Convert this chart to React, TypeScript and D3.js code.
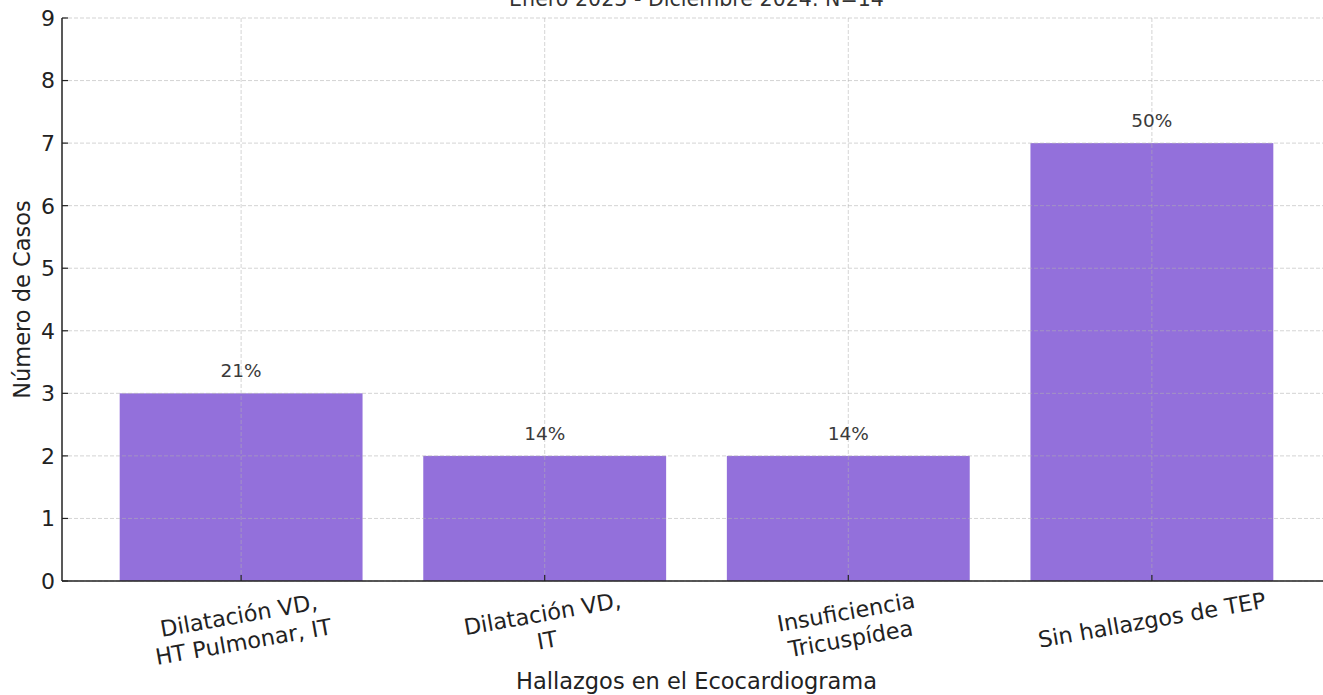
import * as d3 from "d3";
import { useEffect, useRef } from "react";

const categories = [
  ["Dilatación VD,", "HT Pulmonar, IT"],
  ["Dilatación VD,", "IT"],
  ["Insuficiencia", "Tricuspídea"],
  ["Sin hallazgos de TEP"],
];
const cases = [3, 2, 2, 7];
const percentLabels = ["21%", "14%", "14%", "50%"];
const yTicks = [0, 1, 2, 3, 4, 5, 6, 7, 8, 9];

const W = 1323;
const H = 695;
const FONT = "'DejaVu Sans', sans-serif";
const ROT = 10;

const App = () => {
  const svgRef = useRef<SVGSVGElement>(null);

  useEffect(() => {
    const svgEl = svgRef.current;
    if (!svgEl) return;
    const svg = d3.select(svgEl);
    svg.selectAll("*").remove();

    const left = 62;
    const right = 1331;
    const top = 18;
    const bottom = 581;

    const keys = categories.map((_, i) => String(i));
    const x = d3
      .scaleBand<string>()
      .domain(keys)
      .range([left, right])
      .paddingInner(0.2)
      .paddingOuter(0.19);
    const y = d3.scaleLinear().domain([0, 9]).range([bottom, top]);

    // bars
    svg
      .append("g")
      .selectAll("rect")
      .data(cases)
      .join("rect")
      .attr("x", (_, i) => x(keys[i])!)
      .attr("width", x.bandwidth())
      .attr("y", (d) => y(d))
      .attr("height", (d) => y(0) - y(d))
      .attr("fill", "#9370db");

    // grid on top, dashed
    const grid = svg.append("g").attr("stroke", "#b0b0b0").attr("stroke-opacity", 0.55)
      .attr("stroke-dasharray", "4,2").attr("stroke-width", 1);
    grid
      .selectAll("line.h")
      .data(yTicks)
      .join("line")
      .attr("x1", left)
      .attr("x2", W)
      .attr("y1", (d) => y(d))
      .attr("y2", (d) => y(d));
    grid
      .selectAll("line.v")
      .data(keys)
      .join("line")
      .attr("x1", (k) => x(k)! + x.bandwidth() / 2)
      .attr("x2", (k) => x(k)! + x.bandwidth() / 2)
      .attr("y1", top)
      .attr("y2", bottom);

    // value annotations
    svg
      .append("g")
      .selectAll("text")
      .data(cases)
      .join("text")
      .attr("x", (_, i) => x(keys[i])! + x.bandwidth() / 2)
      .attr("y", (d) => y(d) - 16)
      .attr("text-anchor", "middle")
      .attr("font-family", FONT)
      .attr("font-size", 18.5)
      .attr("fill", "#3a3a3a")
      .text((_, i) => percentLabels[i]);

    // spines
    svg.append("line").attr("x1", left).attr("x2", left).attr("y1", top).attr("y2", bottom)
      .attr("stroke", "#222").attr("stroke-width", 1.5);
    svg.append("line").attr("x1", left).attr("x2", W).attr("y1", bottom).attr("y2", bottom)
      .attr("stroke", "#222").attr("stroke-width", 1.5);

    // y ticks (inward) and labels
    const yt = svg.append("g");
    yt.selectAll("line")
      .data(yTicks)
      .join("line")
      .attr("x1", left)
      .attr("x2", left + 6)
      .attr("y1", (d) => y(d))
      .attr("y2", (d) => y(d))
      .attr("stroke", "#222")
      .attr("stroke-width", 1.2);
    yt.selectAll("text")
      .data(yTicks)
      .join("text")
      .attr("x", left - 7)
      .attr("y", (d) => y(d))
      .attr("dy", "0.36em")
      .attr("text-anchor", "end")
      .attr("font-family", FONT)
      .attr("font-size", 22)
      .attr("fill", "#222")
      .text((d) => String(d));

    // x ticks (inward)
    svg
      .append("g")
      .selectAll("line")
      .data(keys)
      .join("line")
      .attr("x1", (k) => x(k)! + x.bandwidth() / 2)
      .attr("x2", (k) => x(k)! + x.bandwidth() / 2)
      .attr("y1", bottom)
      .attr("y2", bottom - 6)
      .attr("stroke", "#222")
      .attr("stroke-width", 1.2);

    // rotated multi-line x labels, rotated bbox top-aligned under the axis
    const fs = 22.4;
    const lh = fs * 1.2;
    const rad = (ROT * Math.PI) / 180;
    const y0 = bottom + 6;
    categories.forEach((lines, i) => {
      const cx = x(keys[i])! + x.bandwidth() / 2;
      const g = svg.append("g");
      const t = g
        .append("text")
        .attr("text-anchor", "middle")
        .attr("font-family", FONT)
        .attr("font-size", fs)
        .attr("fill", "#222");
      lines.forEach((ln, j) => {
        t.append("tspan")
          .attr("x", 0)
          .attr("y", (j - (lines.length - 1) / 2) * lh)
          .attr("dy", "0.35em")
          .text(ln);
      });
      const widths = t.selectAll<SVGTSpanElement, unknown>("tspan").nodes().map((n) => n.getComputedTextLength());
      const w = d3.max(widths) ?? 0;
      const h = (lines.length - 1) * lh + fs * 1.17;
      const bh = w * Math.sin(rad) + h * Math.cos(rad);
      g.attr("transform", `translate(${cx},${y0 + bh / 2}) rotate(${-ROT})`);
    });

    // axis titles
    svg
      .append("text")
      .attr("x", (left + right) / 2)
      .attr("y", 689)
      .attr("text-anchor", "middle")
      .attr("font-family", FONT)
      .attr("font-size", 22.5)
      .attr("fill", "#222")
      .text("Hallazgos en el Ecocardiograma");
    svg
      .append("text")
      .attr("transform", `translate(30,${(top + bottom) / 2}) rotate(-90)`)
      .attr("text-anchor", "middle")
      .attr("font-family", FONT)
      .attr("font-size", 22.5)
      .attr("fill", "#222")
      .text("Número de Casos");

    // title (top line cut off by page edge)
    svg
      .append("text")
      .attr("x", (left + right) / 2)
      .attr("y", 6)
      .attr("text-anchor", "middle")
      .attr("font-family", FONT)
      .attr("font-size", 20.6)
      .attr("fill", "#333")
      .text("Enero 2023 - Diciembre 2024. N=14");
  }, []);

  return (
    <svg
      ref={svgRef}
      width={W}
      height={H}
      style={{ position: "absolute", left: 0, top: 0, background: "#fff" }}
    />
  );
};

export default App;
